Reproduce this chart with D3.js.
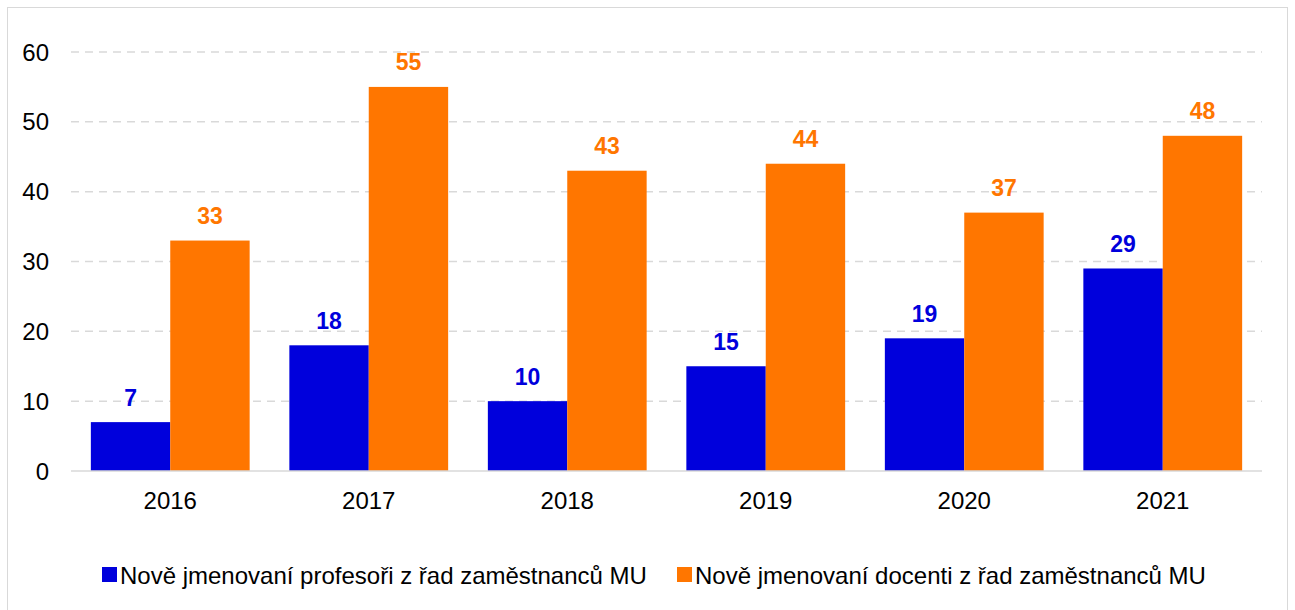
<!DOCTYPE html>
<html>
<head>
<meta charset="utf-8">
<script src="https://cdn.jsdelivr.net/npm/d3@7"></script>
<style>
  body { margin: 0; background: #fff; }
  text { font-family: "Liberation Sans", Arial, sans-serif; }
</style>
</head>
<body>
<div id="chart"></div>
<script>
const years = ["2016", "2017", "2018", "2019", "2020", "2021"];
const profesori = [7, 18, 10, 15, 19, 29];
const docenti = [33, 55, 43, 44, 37, 48];
const seriesNames = ["Nově jmenovaní profesoři z řad zaměstnanců MU", "Nově jmenovaní docenti z řad zaměstnanců MU"];
const yTicks = [0, 10, 20, 30, 40, 50, 60];

const width = 1295;
const height = 610;
const colors = ["#0000dc", "#ff7600"];

const svg = d3.select("#chart")
  .append("svg")
  .attr("width", width)
  .attr("height", height);

// outer frame
svg.append("rect")
  .attr("x", 7.5).attr("y", 7.5)
  .attr("width", 1280).attr("height", 620)
  .attr("fill", "none")
  .attr("stroke", "#d9d9d9");

const xScale = d3.scaleBand()
  .domain(years)
  .range([71, 1262])
  .paddingInner(0.2)
  .paddingOuter(0.1);

const xInner = d3.scaleBand()
  .domain([0, 1])
  .range([0, xScale.bandwidth()]);

const yScale = d3.scaleLinear()
  .domain([0, 60])
  .range([471, 52]);

// grid lines
svg.append("g")
  .selectAll("line")
  .data(yTicks.filter(d => d > 0))
  .enter()
  .append("line")
  .attr("x1", 71).attr("x2", 1262)
  .attr("y1", d => yScale(d)).attr("y2", d => yScale(d))
  .attr("stroke", "#d9d9d9")
  .attr("stroke-width", 1.5)
  .attr("stroke-dasharray", "8,6");

// y labels
svg.append("g")
  .selectAll("text")
  .data(yTicks)
  .enter()
  .append("text")
  .attr("x", 49)
  .attr("y", d => yScale(d))
  .attr("dy", "0.36em")
  .attr("text-anchor", "end")
  .attr("font-size", 24)
  .attr("fill", "#000")
  .text(d => d);

const series = [profesori, docenti];

const groups = svg.append("g")
  .selectAll("g")
  .data(years)
  .enter()
  .append("g")
  .attr("transform", d => `translate(${xScale(d)},0)`);

groups.selectAll("rect")
  .data((d, i) => series.map((s, k) => ({ k, v: s[i] })))
  .enter()
  .append("rect")
  .attr("x", d => xInner(d.k))
  .attr("width", xInner.bandwidth())
  .attr("y", d => yScale(d.v))
  .attr("height", d => yScale(0) - yScale(d.v))
  .attr("fill", d => colors[d.k]);

groups.selectAll("text")
  .data((d, i) => series.map((s, k) => ({ k, v: s[i] })))
  .enter()
  .append("text")
  .attr("x", d => xInner(d.k) + xInner.bandwidth() / 2)
  .attr("y", d => yScale(d.v) - 16.5)
  .attr("text-anchor", "middle")
  .attr("font-size", 23)
  .attr("font-weight", "bold")
  .attr("fill", d => colors[d.k])
  .text(d => d.v);

// baseline
svg.append("line")
  .attr("x1", 71).attr("x2", 1262)
  .attr("y1", yScale(0)).attr("y2", yScale(0))
  .attr("stroke", "#d9d9d9")
  .attr("stroke-width", 1.5);

// x labels
svg.append("g")
  .selectAll("text")
  .data(years)
  .enter()
  .append("text")
  .attr("x", d => xScale(d) + xScale.bandwidth() / 2)
  .attr("y", 508.5)
  .attr("text-anchor", "middle")
  .attr("font-size", 24)
  .attr("fill", "#000")
  .text(d => d);

// legend
const legend = svg.append("g");
const legendX = [102, 677];
seriesNames.forEach((name, i) => {
  legend.append("rect")
    .attr("x", legendX[i]).attr("y", 567)
    .attr("width", 15).attr("height", 15)
    .attr("fill", colors[i]);
  legend.append("text")
    .attr("x", legendX[i] + 18)
    .attr("y", 583.5)
    .attr("font-size", 24)
    .attr("fill", "#000")
    .text(name);
});
</script>
</body>
</html>
